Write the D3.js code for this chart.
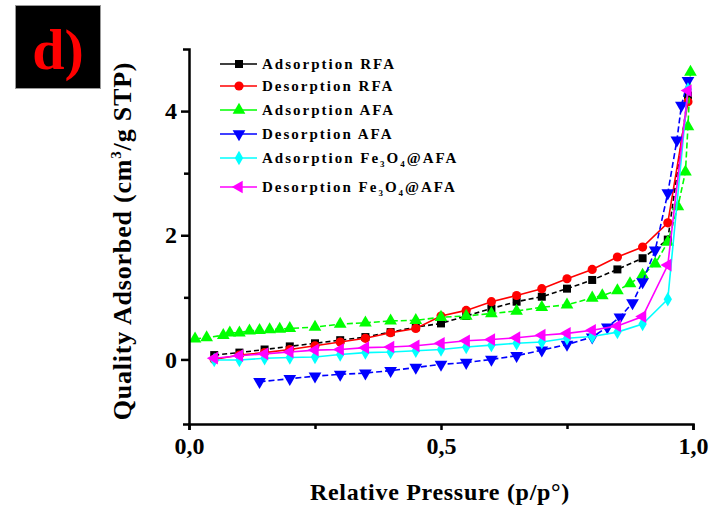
<!DOCTYPE html>
<html>
<head>
<meta charset="utf-8">
<script src="https://cdn.jsdelivr.net/npm/d3@7"></script>
<style>
  html, body { margin: 0; padding: 0; background: #fff; }
  svg text { font-family: "Liberation Serif", "DejaVu Serif", serif; font-weight: bold; }
</style>
</head>
<body>
<div id="chart"></div>
<script>
// relative pressure p/p0 and quantity adsorbed
var pStd = [0.05, 0.10, 0.15, 0.20, 0.25, 0.30, 0.35, 0.40, 0.45, 0.50, 0.55, 0.60, 0.65, 0.70, 0.75, 0.80, 0.85, 0.90, 0.95, 0.99];

var adsRFA = [0.07, 0.11, 0.16, 0.21, 0.26, 0.31, 0.36, 0.44, 0.52, 0.58, 0.70, 0.82, 0.93, 1.01, 1.14, 1.28, 1.45, 1.63, 1.93, 4.25];
var desRFA = [0.00, 0.07, 0.11, 0.16, 0.22, 0.28, 0.34, 0.43, 0.50, 0.70, 0.79, 0.93, 1.03, 1.14, 1.30, 1.45, 1.65, 1.81, 2.20, 4.15];

var pAdsAFA = [0.012, 0.035, 0.068, 0.081, 0.10, 0.12, 0.14, 0.16, 0.18, 0.20, 0.25, 0.30, 0.35, 0.40, 0.45, 0.50, 0.55, 0.60, 0.65, 0.70, 0.75, 0.80, 0.82, 0.85, 0.875, 0.90, 0.925, 0.95, 0.97, 0.985, 0.99, 0.995];
var adsAFA = [0.33, 0.35, 0.39, 0.43, 0.43, 0.46, 0.47, 0.48, 0.49, 0.50, 0.52, 0.57, 0.59, 0.62, 0.63, 0.68, 0.70, 0.74, 0.78, 0.84, 0.88, 0.99, 1.03, 1.11, 1.22, 1.36, 1.54, 1.89, 2.46, 3.02, 3.75, 4.63];

var pDesAFA = [0.14, 0.20, 0.25, 0.30, 0.35, 0.40, 0.45, 0.50, 0.55, 0.60, 0.65, 0.70, 0.75, 0.80, 0.83, 0.855, 0.88, 0.90, 0.925, 0.95, 0.968, 0.977, 0.99];
var desAFA = [-0.36, -0.31, -0.27, -0.24, -0.22, -0.18, -0.13, -0.08, -0.05, 0.00, 0.06, 0.15, 0.24, 0.36, 0.52, 0.68, 0.91, 1.25, 1.76, 2.68, 3.53, 4.09, 4.49];

var adsFe = [-0.01, -0.01, 0.02, 0.03, 0.04, 0.08, 0.11, 0.12, 0.14, 0.16, 0.20, 0.23, 0.26, 0.28, 0.34, 0.37, 0.44, 0.57, 0.97, 4.35];
var desFe = [0.02, 0.06, 0.09, 0.12, 0.15, 0.16, 0.19, 0.20, 0.22, 0.26, 0.30, 0.32, 0.35, 0.39, 0.42, 0.47, 0.54, 0.69, 1.52, 4.33];

var xTicks = [0, 0.5, 1];
var xMinor = [0.25, 0.75];
var yTicks = [0, 2, 4];
var yMinor = [1, 3];

var series = [
  { name: 'Adsorption RFA', p: pStd, v: adsRFA, color: '#000000', sym: d3.symbolSquare, size: 64, rot: 0, dash: '5,3' },
  { name: 'Desorption RFA', p: pStd, v: desRFA, color: '#ff0000', sym: d3.symbolCircle, size: 66, rot: 0, dash: null },
  { name: 'Adsorption AFA', p: pAdsAFA, v: adsAFA, color: '#00ff00', sym: d3.symbolTriangle, size: 70, rot: 0, dash: '6,3' },
  { name: 'Desorption AFA', p: pDesAFA, v: desAFA, color: '#0000ff', sym: d3.symbolTriangle, size: 70, rot: 180, dash: '6,3' },
  { name: 'Adsorption Fe3O4@AFA', p: pStd, v: adsFe, color: '#00ffff', sym: d3.symbolDiamond, size: 60, rot: 0, dash: null },
  { name: 'Desorption Fe3O4@AFA', p: pStd, v: desFe, color: '#ff00ff', sym: d3.symbolTriangle, size: 70, rot: -90, dash: null }
];

var W = 711, H = 508;
var svg = d3.select('#chart').append('svg').attr('width', W).attr('height', H);

var x = d3.scaleLinear().domain([0, 1]).range([189, 693]);
var y = d3.scaleLinear().domain([-1.04, 5]).range([424, 49]);

// panel letter
svg.append('rect').attr('x', 15.5).attr('y', 5.5).attr('width', 85).attr('height', 83)
  .attr('fill', '#000').attr('stroke', '#999').attr('stroke-width', 1);
svg.append('text').attr('x', 58).attr('y', 69).attr('text-anchor', 'middle')
  .attr('fill', '#ff0000').style('font-size', '58px').text('d)');

// series
var line = d3.line();
series.forEach(function (s) {
  var pts = s.p.map(function (p, i) { return [x(p), y(s.v[i])]; });
  svg.append('path').attr('d', line(pts))
    .attr('fill', 'none').attr('stroke', s.color).attr('stroke-width', 1.6)
    .attr('stroke-dasharray', s.dash);
  svg.append('g').selectAll('path').data(pts).enter().append('path')
    .attr('d', d3.symbol().type(s.sym).size(s.size))
    .attr('transform', function (d) { return 'translate(' + d[0] + ',' + d[1] + ') rotate(' + s.rot + ')'; })
    .attr('fill', s.color);
});

// axes
var fmt = function (d) { return d3.format('.1f')(d).replace('.', ','); };
var gx = svg.append('g').attr('transform', 'translate(0,424)')
  .call(d3.axisBottom(x).tickValues(xTicks).tickFormat(fmt).tickSize(6).tickSizeOuter(6).tickPadding(7));
svg.append('g').attr('transform', 'translate(0,424)')
  .call(d3.axisBottom(x).tickValues(xMinor).tickFormat('').tickSize(5).tickSizeOuter(0))
  .call(function (g) { g.select('.domain').remove(); });
var gy = svg.append('g').attr('transform', 'translate(189,0)')
  .call(d3.axisLeft(y).tickValues(yTicks).tickFormat(d3.format('d')).tickSize(8).tickSizeOuter(6).tickPadding(4));
svg.append('g').attr('transform', 'translate(189,0)')
  .call(d3.axisLeft(y).tickValues(yMinor).tickFormat('').tickSize(5).tickSizeOuter(0))
  .call(function (g) { g.select('.domain').remove(); });

svg.selectAll('.domain').attr('stroke', '#000').attr('stroke-width', 2.5);
svg.selectAll('.tick line').attr('stroke', '#000').attr('stroke-width', 2.5);
gx.selectAll('text').attr('fill', '#000').style('font-size', '24px')
  .style('font-family', '"Liberation Serif", serif').style('font-weight', 'bold');
gy.selectAll('text').attr('fill', '#000').style('font-size', '24px')
  .style('font-family', '"Liberation Serif", serif').style('font-weight', 'bold');

// axis titles
svg.append('text').attr('x', 440).attr('y', 500).attr('text-anchor', 'middle')
  .style('font-size', '24px').style('letter-spacing', '0.7px').text('Relative Pressure (p/p°)');
var yt = svg.append('text').attr('transform', 'translate(131,241) rotate(-90)')
  .attr('text-anchor', 'middle').style('font-size', '26px').style('letter-spacing', '0.8px');
yt.append('tspan').text('Quality Adsorbed (cm');
yt.append('tspan').attr('dy', -10).style('font-size', '15px').text('3');
yt.append('tspan').attr('dy', 10).text('/g STP)');

// legend
var legY = [64, 86, 110, 134, 158, 187];
var leg = svg.append('g');
series.forEach(function (s, i) {
  var g = leg.append('g').attr('transform', 'translate(0,' + legY[i] + ')');
  g.append('line').attr('x1', 220).attr('x2', 257).attr('y1', 0).attr('y2', 0)
    .attr('stroke', s.color).attr('stroke-width', 1.6);
  g.append('path').attr('d', d3.symbol().type(s.sym).size(s.size))
    .attr('transform', 'translate(239,0) rotate(' + s.rot + ')').attr('fill', s.color);
  var t = g.append('text').attr('x', 262).attr('y', 5).style('font-size', '15px')
    .style('letter-spacing', '2px');
  var m = s.name.match(/^(.*)Fe3O4(.*)$/);
  if (m) {
    t.append('tspan').text(m[1] + 'Fe');
    t.append('tspan').attr('dy', 4).style('font-size', '9px').text('3');
    t.append('tspan').attr('dy', -4).text('O');
    t.append('tspan').attr('dy', 4).style('font-size', '9px').text('4');
    t.append('tspan').attr('dy', -4).text(m[2]);
  } else {
    t.text(s.name);
  }
});
</script>
</body>
</html>
